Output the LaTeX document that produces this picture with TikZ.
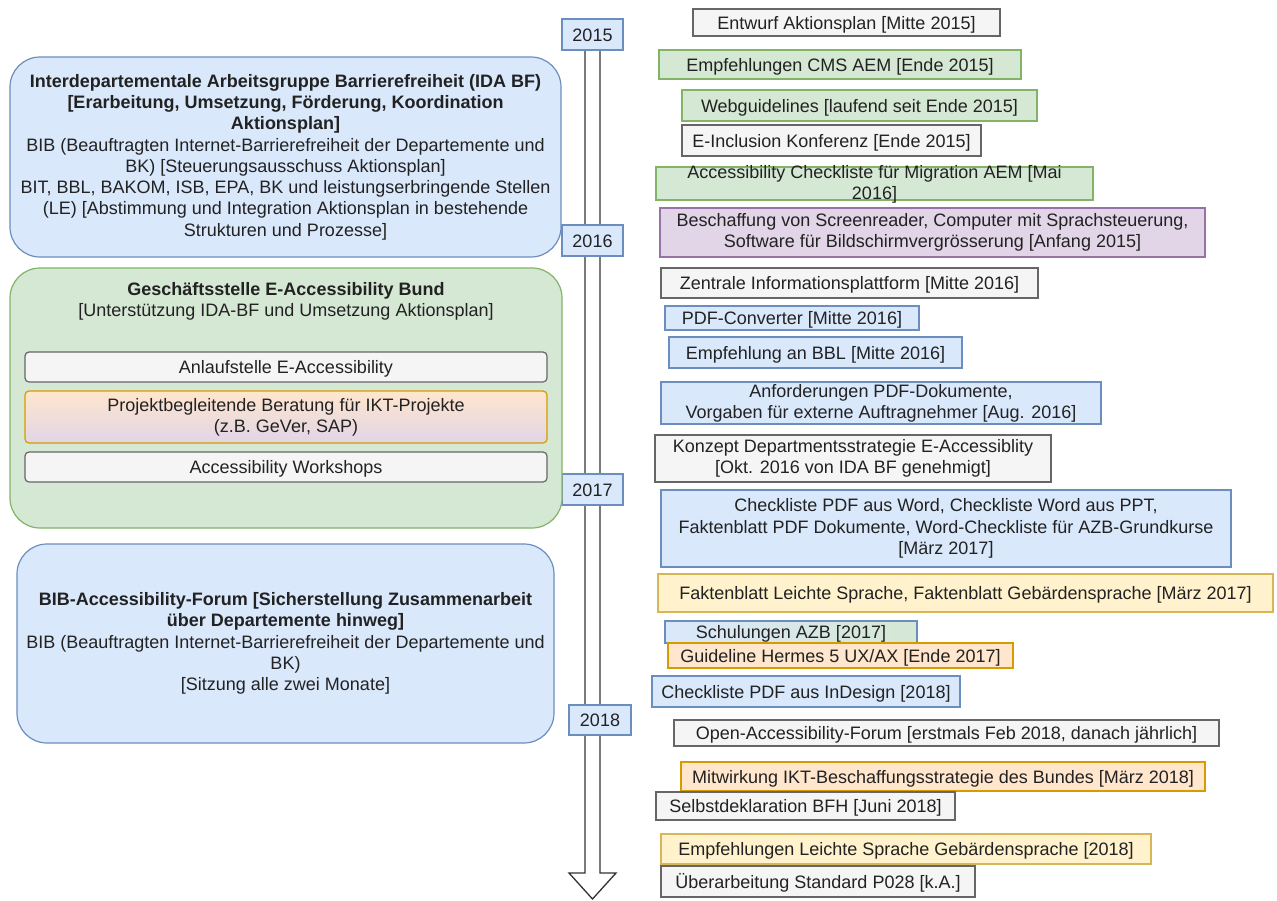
\documentclass[tikz,border=0pt]{standalone}
\usepackage{fontspec}
\setmainfont{Liberation Sans}
\definecolor{txt}{HTML}{222222}
\definecolor{grayfill}{HTML}{F5F5F5}
\definecolor{graydraw}{HTML}{666666}
\definecolor{greenfill}{HTML}{D5E8D4}
\definecolor{greendraw}{HTML}{82B366}
\definecolor{bluefill}{HTML}{DAE8FC}
\definecolor{bluedraw}{HTML}{6C8EBF}
\definecolor{purplefill}{HTML}{E1D5E7}
\definecolor{purpledraw}{HTML}{9673A6}
\definecolor{yellowfill}{HTML}{FFF2CC}
\definecolor{yellowdraw}{HTML}{D6B656}
\definecolor{orangefill}{HTML}{FFE6CC}
\definecolor{orangedraw}{HTML}{D79B00}
\definecolor{arrowdraw}{HTML}{333333}
\tikzset{
  base/.style={draw, line width=1.2pt, font=\fontsize{18}{21.3}\selectfont, text=txt, inner sep=0pt, align=center, anchor=center},
  txtonly/.style={font=\fontsize{18}{21.3}\selectfont, text=txt, inner sep=0pt, align=center, anchor=center},
  oneline/.style={text height=17pt, text depth=4pt},
  graybox/.style={base, fill=grayfill, draw=graydraw},
  greenbox/.style={base, fill=greenfill, draw=greendraw},
  bluebox/.style={base, fill=bluefill, draw=bluedraw},
  purplebox/.style={base, fill=purplefill, draw=purpledraw},
  yellowbox/.style={base, fill=yellowfill, draw=yellowdraw},
  orangebox/.style={base, fill=orangefill, draw=orangedraw},
  bigbox/.style={rounded corners=30pt},
  smallround/.style={rounded corners=4pt},
  yearbox/.style={bluebox, oneline},
  timeline/.style={draw=arrowdraw, fill=white, line width=1.3pt, line join=miter}
}
\begin{document}
\begin{tikzpicture}[x=1pt,y=1pt]
\useasboundingbox (0,0) rectangle (1277,-900);
\fill[white] (0,0) rectangle (1277,-900);

% timeline arrow
\coordinate (ttop) at (592.5,-28);
\coordinate (ttip) at (592.5,-899);
\draw[timeline] (585,-28) -- (585,-873) -- (569,-873) -- (ttip) -- (616,-873) -- (600,-873) -- (600,-28) -- cycle;

% year boxes
\node[yearbox, minimum width=61, minimum height=31] (y2015) at (592.5,-34.5) {2015};
\node[yearbox, minimum width=61, minimum height=31] (y2016) at (592.5,-240.5) {2016};
\node[yearbox, minimum width=61, minimum height=31] (y2017) at (592.5,-489.5) {2017};
\node[yearbox, minimum width=62, minimum height=30] (y2018) at (600,-720) {2018};

% left boxes
\node[bluebox, bigbox, minimum width=551, minimum height=200] (ida) at (285.5,-157) {%
\textbf{Interdepartementale Arbeitsgruppe Barrierefreiheit (IDA BF)}\\
\textbf{{[}Erarbeitung, Umsetzung, Förderung, Koordination}\\
\textbf{Aktionsplan]}\\
BIB (Beauftragten Internet-Barrierefreiheit der Departemente und\\
BK) [Steuerungsausschuss Aktionsplan]\\
BIT, BBL, BAKOM, ISB, EPA, BK und leistungserbringende Stellen\\
(LE) [Abstimmung und Integration Aktionsplan in bestehende\\
Strukturen und Prozesse]};

\node[greenbox, bigbox, minimum width=552, minimum height=260] (gs) at (286,-398) {};
\node[txtonly] (gstitle) at (286,-301) {\textbf{Geschäftsstelle E-Accessibility Bund}\\
{[}Unterstützung IDA-BF und Umsetzung Aktionsplan]};
\node[graybox, smallround, oneline, minimum width=522, minimum height=30] (anl) at (286,-367) {Anlaufstelle E-Accessibility};
\node[base, smallround, draw=orangedraw, top color=orangefill, bottom color=purplefill, minimum width=522, minimum height=52] (proj) at (286,-417) {Projektbegleitende Beratung für IKT-Projekte\\(z.B. GeVer, SAP)};
\node[graybox, smallround, oneline, minimum width=522, minimum height=30] (ws) at (286,-467) {Accessibility Workshops};

\node[bluebox, bigbox, minimum width=537, minimum height=199] (forum) at (285.5,-643.5) {%
\textbf{BIB-Accessibility-Forum [Sicherstellung Zusammenarbeit}\\
\textbf{über Departemente hinweg]}\\
BIB (Beauftragten Internet-Barrierefreiheit der Departemente und\\
BK)\\
{[}Sitzung alle zwei Monate]};

% right boxes
\node[graybox, oneline, minimum width=307, minimum height=27] (r1) at (846.5,-22.5) {Entwurf Aktionsplan [Mitte 2015]};
\node[greenbox, oneline, minimum width=362, minimum height=29] (r2) at (840,-64.5) {Empfehlungen CMS AEM [Ende 2015]};
\node[greenbox, oneline, minimum width=355, minimum height=31] (r3) at (859.5,-105.5) {Webguidelines [laufend seit Ende 2015]};
\node[graybox, oneline, minimum width=299, minimum height=31] (r4) at (831.5,-140.5) {E-Inclusion Konferenz [Ende 2015]};
\node[greenbox, minimum width=437, minimum height=33] (r5) at (874.5,-183.5) {};
\node[txtonly] (r5t) at (874.5,-184.5) {Accessibility Checkliste für Migration AEM [Mai\\2016]};
\node[purplebox, minimum width=545, minimum height=49] (r6) at (932.5,-232.5) {Beschaffung von Screenreader, Computer mit Sprachsteuerung,\\Software für Bildschirmvergrösserung [Anfang 2015]};
\node[graybox, oneline, minimum width=377, minimum height=30] (r7) at (849.5,-283) {Zentrale Informationsplattform [Mitte 2016]};
\node[bluebox, oneline, minimum width=254, minimum height=24] (r8) at (792,-318) {PDF-Converter [Mitte 2016]};
\node[bluebox, oneline, minimum width=293, minimum height=31] (r9) at (815.5,-352.5) {Empfehlung an BBL [Mitte 2016]};
\node[bluebox, minimum width=440, minimum height=42] (r10) at (881,-403) {Anforderungen PDF-Dokumente,\\Vorgaben für externe Auftragnehmer [Aug. 2016]};
\node[graybox, minimum width=396, minimum height=47] (r11) at (853,-458.5) {Konzept Departmentsstrategie E-Accessiblity\\{[}Okt. 2016 von IDA BF genehmigt]};
\node[bluebox, minimum width=570, minimum height=77] (r12) at (946,-528.5) {Checkliste PDF aus Word, Checkliste Word aus PPT,\\Faktenblatt PDF Dokumente, Word-Checkliste für AZB-Grundkurse\\{[}März 2017]};
\node[yellowbox, oneline, minimum width=615, minimum height=38] (r13) at (965.5,-593) {Faktenblatt Leichte Sprache, Faktenblatt Gebärdensprache [März 2017]};
\node[base, oneline, draw=bluedraw, left color=bluefill, right color=greenfill, minimum width=252, minimum height=22] (r14) at (791,-632) {Schulungen AZB [2017]};
\node[orangebox, oneline, minimum width=345, minimum height=25] (r15) at (840.5,-655.5) {Guideline Hermes 5 UX/AX [Ende 2017]};
\node[bluebox, oneline, minimum width=308, minimum height=31] (r16) at (806,-691.5) {Checkliste PDF aus InDesign [2018]};
\node[graybox, oneline, minimum width=545, minimum height=26] (r17) at (946.5,-733) {Open-Accessibility-Forum [erstmals Feb 2018, danach jährlich]};
\node[orangebox, oneline, minimum width=524, minimum height=29] (r18) at (943,-776.5) {Mitwirkung IKT-Beschaffungsstrategie des Bundes [März 2018]};
\node[graybox, oneline, minimum width=299, minimum height=28] (r19) at (805.5,-806) {Selbstdeklaration BFH [Juni 2018]};
\node[yellowbox, oneline, minimum width=490, minimum height=30] (r20) at (906,-849) {Empfehlungen Leichte Sprache Gebärdensprache [2018]};
\node[graybox, oneline, minimum width=314, minimum height=31] (r21) at (818,-881.5) {Überarbeitung Standard P028 [k.A.]};
\end{tikzpicture}
\end{document}
